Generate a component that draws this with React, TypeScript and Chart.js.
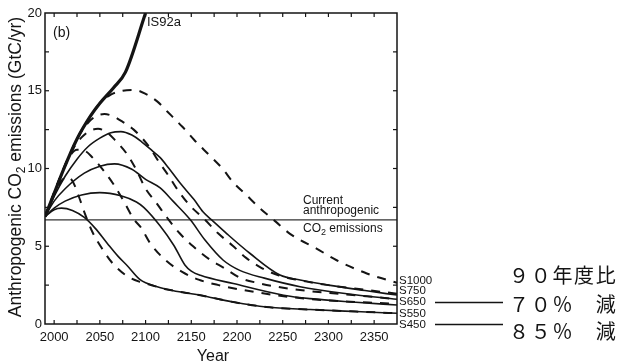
import React, { useEffect, useRef } from "react";
import { Chart, registerables } from "chart.js";

Chart.register(...registerables);

// ---- axes ----
const xRange = [1990, 2375];
const yRange = [0, 20];
const xTickLabels = [2000, 2050, 2100, 2150, 2200, 2250, 2300, 2350];
const xMinorTicks = [2000, 2025, 2050, 2075, 2100, 2125, 2150, 2175, 2200, 2225, 2250, 2275, 2300, 2325, 2350];
const yTickLabels = [0, 5, 10, 15, 20];
const yMinorTicks = [2.5, 5, 7.5, 10, 12.5, 15, 17.5];
const currentEmission = 6.7;

// ---- series: [year, GtC/yr] ----
const is92a = [[1990, 6.9], [2000, 8.4], [2010, 9.9], [2025, 11.9], [2040, 13.4], [2050, 14.2], [2065, 15.2], [2078, 16.2], [2100, 20.0]];

// dashed (S profiles)
const s1000 = [[1990, 6.9], [2010, 9.9], [2025, 11.9], [2040, 13.4], [2050, 14.2], [2062, 14.75], [2075, 15.0], [2088, 15.05], [2100, 14.8], [2113, 14.3], [2124, 13.65], [2140, 12.7], [2153, 11.85], [2169, 10.9], [2184, 10.0], [2196, 9.1], [2211, 8.25], [2225, 7.45], [2242, 6.6], [2258, 5.8], [2287, 4.85], [2309, 4.1], [2342, 3.25], [2375, 2.65]];
const s750 = [[1990, 6.9], [2010, 9.9], [2025, 11.9], [2035, 12.8], [2045, 13.35], [2055, 13.5], [2065, 13.35], [2075, 13.0], [2087, 12.5], [2097, 11.9], [2105, 11.3], [2116, 10.3], [2125, 9.55], [2136, 8.55], [2148, 7.65], [2165, 6.7], [2179, 5.85], [2195, 5.05], [2210, 4.25], [2227, 3.6], [2246, 3.12], [2265, 2.85], [2300, 2.5], [2340, 2.2], [2375, 1.95]];
const s650 = [[1990, 6.9], [2010, 9.9], [2020, 11.2], [2030, 12.0], [2040, 12.45], [2048, 12.55], [2056, 12.4], [2067, 11.8], [2080, 10.9], [2090, 9.9], [2100, 8.7], [2111, 7.85], [2124, 6.8], [2137, 5.85], [2152, 5.0], [2170, 4.15], [2186, 3.6], [2204, 2.95], [2222, 2.65], [2260, 2.25], [2320, 1.9], [2375, 1.6]];
const s550 = [[1990, 6.9], [2005, 9.2], [2015, 10.6], [2025, 11.2], [2033, 11.15], [2042, 10.7], [2055, 9.8], [2067, 8.8], [2077, 7.8], [2087, 6.75], [2095, 6.2], [2105, 5.2], [2122, 4.1], [2140, 3.35], [2158, 2.85], [2180, 2.5], [2220, 2.05], [2280, 1.6], [2375, 1.3]];
const s450 = [[1990, 6.9], [2000, 8.3], [2008, 9.2], [2014, 9.45], [2020, 9.2], [2027, 8.2], [2033, 7.2], [2042, 5.9], [2053, 4.8], [2064, 3.9], [2078, 3.15], [2094, 2.7], [2100, 2.6], [2124, 2.22], [2160, 1.85], [2196, 1.41], [2232, 1.09], [2280, 0.93], [2330, 0.8], [2375, 0.69]];

// solid (delayed profiles)
const wre750 = [[1990, 6.9], [2000, 8.2], [2012, 9.5], [2025, 10.6], [2037, 11.4], [2050, 11.95], [2062, 12.3], [2073, 12.37], [2085, 12.15], [2096, 11.7], [2108, 11.1], [2116, 10.7], [2125, 10.05], [2138, 9.05], [2153, 8.0], [2163, 7.2], [2174, 6.6], [2189, 5.8], [2214, 4.55], [2247, 3.15], [2269, 2.83], [2300, 2.5], [2340, 2.15], [2375, 1.86]];
const wre650 = [[1990, 6.9], [2000, 7.9], [2012, 8.7], [2033, 9.7], [2050, 10.15], [2066, 10.3], [2085, 9.95], [2100, 9.3], [2116, 8.75], [2130, 7.9], [2149, 6.7], [2165, 5.4], [2185, 4.1], [2203, 3.45], [2230, 2.95], [2269, 2.4], [2320, 1.95], [2375, 1.59]];
const wre550 = [[1990, 6.9], [2000, 7.45], [2012, 7.9], [2030, 8.3], [2050, 8.45], [2073, 8.25], [2090, 7.85], [2098, 7.5], [2116, 6.3], [2131, 5.05], [2143, 3.8], [2150, 3.4], [2160, 3.13], [2196, 2.6], [2251, 1.85], [2280, 1.63], [2330, 1.4], [2375, 1.22]];
const wre450 = [[1990, 6.9], [2000, 7.35], [2008, 7.45], [2020, 7.3], [2033, 6.85], [2045, 6.15], [2058, 5.2], [2070, 4.35], [2080, 3.75], [2094, 2.85], [2100, 2.65], [2124, 2.22], [2160, 1.85], [2196, 1.41], [2232, 1.09], [2280, 0.93], [2330, 0.8], [2375, 0.69]];

// ---- labels ----
const stabilizationLabels = ["S1000", "S750", "S650", "S550", "S450"];
const jpLabels = ["９０年度比", "７０％　減", "８５％　減"];

const INK = "#141414";
const FONT = "'Liberation Sans', Arial, Helvetica, sans-serif";

const pts = (arr: number[][]) => arr.map(([x, y]) => ({ x, y }));

const solid = (arr: number[][]) => ({
  data: pts(arr),
  borderColor: INK,
  borderWidth: 1.6,
  pointRadius: 0,
  fill: false,
  cubicInterpolationMode: "monotone" as const,
  borderJoinStyle: "round" as const,
});
const dashed = (arr: number[][]) => ({
  ...solid(arr),
  borderWidth: 2,
  borderDash: [9, 8],
});

const decor = {
  id: "decor",
  afterDraw(chart: any) {
    const { ctx, chartArea: a, scales } = chart;
    const x = scales.x;
    const y = scales.y;
    ctx.save();
    ctx.strokeStyle = INK;
    ctx.fillStyle = INK;
    ctx.lineWidth = 1.5;
    ctx.strokeRect(a.left, a.top, a.right - a.left, a.bottom - a.top);

    const seg = (x1: number, y1: number, x2: number, y2: number) => {
      ctx.beginPath();
      ctx.moveTo(x1, y1);
      ctx.lineTo(x2, y2);
      ctx.stroke();
    };
    ctx.lineWidth = 1.2;
    for (const v of xMinorTicks) {
      const px = x.getPixelForValue(v);
      seg(px, a.bottom, px, a.bottom - 4);
      seg(px, a.top, px, a.top + 4);
    }
    for (const v of yMinorTicks) {
      const py = y.getPixelForValue(v);
      seg(a.left, py, a.left + 4, py);
      seg(a.right, py, a.right - 4, py);
    }

    // y title with subscript
    const parts: [string, number, number][] = [
      ["Anthropogenic CO", 17.5, 0],
      ["2", 12, 4],
      [" emissions (GtC/yr)", 17.5, 0],
    ];
    let total = 0;
    for (const [t, s] of parts) {
      ctx.font = `${s}px ${FONT}`;
      total += ctx.measureText(t).width;
    }
    ctx.save();
    ctx.translate(21, 167);
    ctx.rotate(-Math.PI / 2);
    ctx.textBaseline = "alphabetic";
    let cx = -total / 2;
    for (const [t, s, dy] of parts) {
      ctx.font = `${s}px ${FONT}`;
      ctx.fillText(t, cx, dy);
      cx += ctx.measureText(t).width;
    }
    ctx.restore();

    // x title
    ctx.font = `16px ${FONT}`;
    ctx.textAlign = "center";
    ctx.fillText("Year", 213, 361);
    ctx.textAlign = "left";

    // panel + IS92a labels
    ctx.font = `14px ${FONT}`;
    ctx.fillText("(b)", 53, 37);
    ctx.font = `13px ${FONT}`;
    ctx.fillText("IS92a", 147, 26);

    // current emissions note
    ctx.font = `12px ${FONT}`;
    ctx.fillText("Current", 303, 204);
    ctx.fillText("anthropogenic", 303, 214);
    ctx.fillText("CO", 303, 232);
    const coW = ctx.measureText("CO").width;
    ctx.font = `9px ${FONT}`;
    ctx.fillText("2", 303 + coW, 235);
    const subW = ctx.measureText("2").width;
    ctx.font = `12px ${FONT}`;
    ctx.fillText(" emissions", 303 + coW + subW, 232);

    // stabilization labels
    ctx.font = `11.5px ${FONT}`;
    const sBase = [284, 294, 305, 317, 328];
    stabilizationLabels.forEach((t, i) => ctx.fillText(t, 399, sBase[i]));

    // connector lines
    ctx.lineWidth = 1.5;
    seg(435, 302.5, 503, 302.5);
    seg(435, 324.5, 503, 324.5);

    // Japanese annotations
    ctx.font = `20px 'Noto Sans CJK JP', sans-serif`;
    try {
      (ctx as any).letterSpacing = "1.7px";
    } catch (e) {}
    const jBase = [283, 312, 339];
    jpLabels.forEach((t, i) => ctx.fillText(t, 509, jBase[i]));
    try {
      (ctx as any).letterSpacing = "0px";
    } catch (e) {}
    ctx.restore();
  },
};

export default function App() {
  const ref = useRef<HTMLCanvasElement | null>(null);
  useEffect(() => {
    if (!ref.current) return;
    const chart = new Chart(ref.current, {
      type: "line",
      data: {
        datasets: [
          { ...solid(is92a), borderWidth: 3.2 },
          solid(wre750),
          solid(wre650),
          solid(wre550),
          solid(wre450),
          dashed(s1000),
          dashed(s750),
          dashed(s650),
          dashed(s550),
          dashed(s450),
          {
            data: pts([[xRange[0], currentEmission], [xRange[1], currentEmission]]),
            borderColor: "#333",
            borderWidth: 1.3,
            pointRadius: 0,
            fill: false,
          },
        ] as any,
      },
      options: {
        responsive: false,
        animation: false,
        devicePixelRatio: 1,
        layout: { padding: { top: 13, right: 223, left: 0, bottom: 0 } },
        plugins: { legend: { display: false }, tooltip: { enabled: false } },
        scales: {
          x: {
            type: "linear",
            min: xRange[0],
            max: xRange[1],
            afterFit: (s: any) => {
              s.height = 40;
            },
            afterBuildTicks: (s: any) => {
              s.ticks = xTickLabels.map((v) => ({ value: v }));
            },
            grid: { display: false, drawTicks: false },
            border: { display: false },
            ticks: {
              padding: 6,
              color: INK,
              font: { family: FONT, size: 13 },
              maxRotation: 0,
              autoSkip: false,
              callback: (v: any) => String(v),
            },
          },
          y: {
            type: "linear",
            min: yRange[0],
            max: yRange[1],
            afterFit: (s: any) => {
              s.width = 45;
            },
            afterBuildTicks: (s: any) => {
              s.ticks = yTickLabels.map((v) => ({ value: v }));
            },
            grid: { display: false, drawTicks: false },
            border: { display: false },
            ticks: {
              padding: 3,
              color: INK,
              font: { family: FONT, size: 13 },
              autoSkip: false,
              callback: (v: any) => String(v),
            },
          },
        },
      },
      plugins: [decor],
    });
    return () => chart.destroy();
  }, []);
  return (
    <div style={{ position: "absolute", left: 0, top: 0, width: 620, height: 364, background: "#fff" }}>
      <canvas ref={ref} width={620} height={364} style={{ width: 620, height: 364, display: "block" }} />
    </div>
  );
}
